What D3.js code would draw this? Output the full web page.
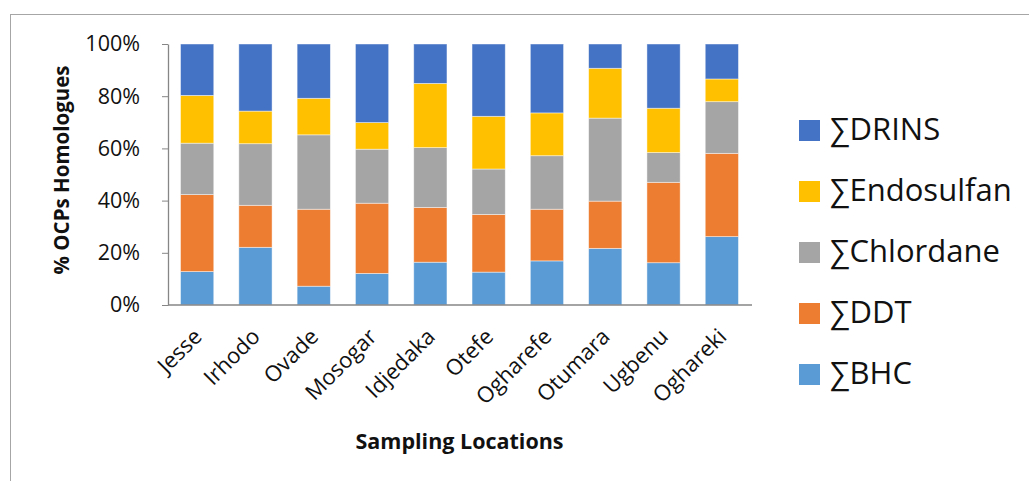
<!DOCTYPE html>
<html>
<head>
<meta charset="utf-8">
<script src="https://cdn.jsdelivr.net/npm/d3@7/dist/d3.min.js"></script>
<style>
  html, body { margin: 0; padding: 0; background: #fff; }
  svg { display: block; }
</style>
</head>
<body>
<svg id="chart" width="1029" height="481"></svg>
<script>
// Sampling locations along the x axis
const locations = ["Jesse", "Irhodo", "Ovade", "Mosogar", "Idjedaka",
                   "Otefe", "Ogharefe", "Otumara", "Ugbenu", "Oghareki"];

// Share (%) of each OCP group at every location, bottom to top of the stack
const bhc        = [12.8, 22.1,  7.2, 12.1, 16.4, 12.6, 16.9, 21.7, 16.2, 26.2];
const ddt        = [29.5, 16.1, 29.5, 26.9, 21.0, 22.1, 19.8, 18.1, 30.8, 31.9];
const chlordane  = [19.7, 23.6, 28.5, 20.7, 22.9, 17.4, 20.5, 31.8, 11.4, 19.8];
const endosulfan = [18.3, 12.5, 14.0, 10.2, 24.6, 20.2, 16.4, 19.1, 17.0,  8.7];
const drins      = [19.7, 25.7, 20.8, 30.1, 15.1, 27.7, 26.4,  9.3, 24.6, 13.4];

const seriesNames  = ["∑BHC", "∑DDT", "∑Chlordane", "∑Endosulfan", "∑DRINS"];
const seriesColors = ["#5B9BD5", "#ED7D31", "#A5A5A5", "#FFC000", "#4472C4"];
const yTicks = [0, 0.2, 0.4, 0.6, 0.8, 1.0];

const seriesValues = [bhc, ddt, chlordane, endosulfan, drins];
const rows = locations.map((loc, i) => {
  const r = { location: loc };
  seriesNames.forEach((s, k) => { r[s] = seriesValues[k][i]; });
  return r;
});

const svg = d3.select("#chart");
const W = 1029, H = 481;
const margin = { left: 168, right: 278, top: 44, bottom: 176 };
const FONT = "'Open Sans', 'Noto Sans', sans-serif";

// chart-area frame
svg.append("rect")
  .attr("x", 10.5).attr("y", 14.5)
  .attr("width", W + 20).attr("height", H + 20)
  .attr("fill", "none").attr("stroke", "#a6a6a6").attr("stroke-width", 1);

const x = d3.scaleBand()
  .domain(locations)
  .range([margin.left, W - margin.right])
  .paddingInner(0.43)
  .paddingOuter(0.215);

const y = d3.scaleLinear()
  .domain([0, 1])
  .range([H - margin.bottom, margin.top]);

const stack = d3.stack().keys(seriesNames).offset(d3.stackOffsetExpand);
const layers = stack(rows);

const g = svg.append("g");
g.selectAll("g.layer")
  .data(layers)
  .join("g")
  .attr("class", "layer")
  .attr("fill", (d, i) => seriesColors[i])
  .selectAll("rect")
  .data(d => d)
  .join("rect")
  .attr("x", d => x(d.data.location))
  .attr("width", x.bandwidth())
  .attr("y", d => y(d[1]))
  .attr("height", d => y(d[0]) - y(d[1]))
  .attr("stroke", "#ffffff")
  .attr("stroke-opacity", 0.55)
  .attr("stroke-width", 0.8);

// y axis
const yAxis = svg.append("g")
  .attr("transform", `translate(${margin.left},0)`)
  .call(d3.axisLeft(y).tickValues(yTicks).tickFormat(d3.format(".0%"))
        .tickSizeInner(6).tickSizeOuter(0).tickPadding(22));
yAxis.select(".domain").attr("stroke", "#868686").attr("stroke-width", 1.3);
yAxis.selectAll(".tick line").attr("stroke", "#868686");
yAxis.selectAll(".tick text")
  .attr("font-family", FONT).attr("font-size", 21.5).attr("fill", "#111");

// x axis
const xAxis = svg.append("g")
  .attr("transform", `translate(0,${H - margin.bottom})`)
  .call(d3.axisBottom(x).tickSize(0).tickSizeOuter(0));
xAxis.select(".domain").attr("stroke", "#868686").attr("stroke-width", 1.6)
  .attr("d", `M${margin.left},0H${W - margin.right + 1}`);
xAxis.selectAll(".tick text")
  .attr("font-family", FONT).attr("font-size", 22).attr("fill", "#111")
  .attr("text-anchor", "end")
  .attr("dy", null).attr("y", null)
  .attr("transform", "translate(6,33) rotate(-45)");

// axis titles
svg.append("text")
  .attr("transform", `translate(69,170) rotate(-90)`)
  .attr("text-anchor", "middle")
  .attr("font-family", FONT).attr("font-weight", 700).attr("font-size", 20.5)
  .attr("fill", "#111")
  .text("% OCPs Homologues");

svg.append("text")
  .attr("x", (margin.left + W - margin.right) / 2)
  .attr("y", 449)
  .attr("text-anchor", "middle")
  .attr("font-family", FONT).attr("font-weight", 700).attr("font-size", 21.5)
  .attr("fill", "#111")
  .text("Sampling Locations");

// legend, top entry is the top of the stack
const legendOrder = seriesNames.map((n, i) => ({ name: n, color: seriesColors[i] })).reverse();
const legend = svg.append("g").attr("transform", "translate(799,120)");
const item = legend.selectAll("g")
  .data(legendOrder)
  .join("g")
  .attr("transform", (d, i) => `translate(0,${i * 61})`);
item.append("rect")
  .attr("width", 21).attr("height", 21)
  .attr("fill", d => d.color);
item.append("text")
  .attr("x", 31).attr("y", 19.5)
  .attr("font-family", FONT).attr("font-size", 31).attr("fill", "#111")
  .text(d => d.name);
</script>
</body>
</html>
